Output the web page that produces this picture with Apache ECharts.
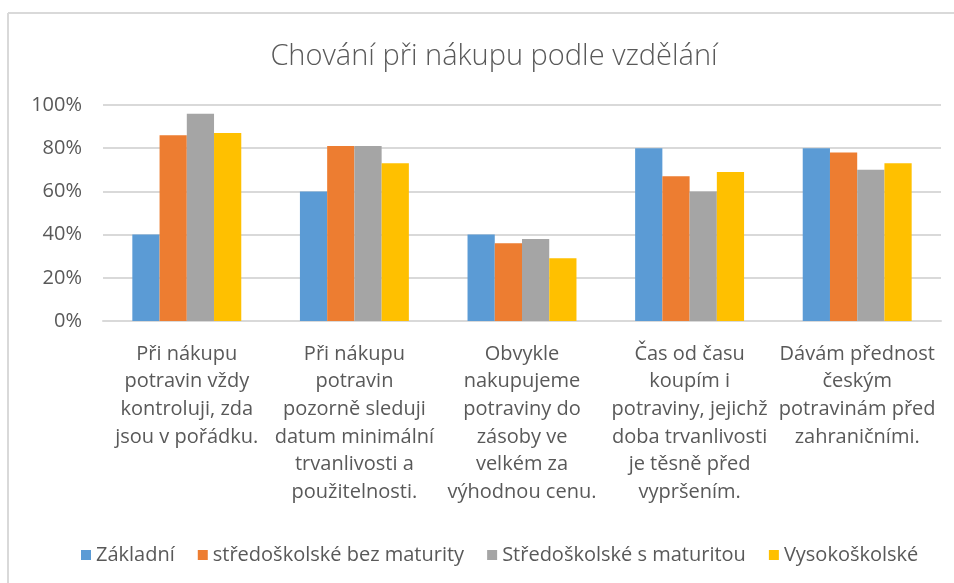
<!DOCTYPE html>
<html>
<head>
<meta charset="utf-8">
<script src="https://cdn.jsdelivr.net/npm/echarts@6/dist/echarts.min.js"></script>
<style>
  html, body { margin: 0; padding: 0; background: #fff; }
  #chart { width: 954px; height: 583px; }
</style>
</head>
<body>
<div id="chart"></div>
<script>
const categories = [
  'Při nákupu\npotravin vždy\nkontroluji, zda\njsou v pořádku.',
  'Při nákupu\npotravin\npozorně sleduji\ndatum minimální\ntrvanlivosti a\npoužitelnosti.',
  'Obvykle\nnakupujeme\npotraviny do\nzásoby ve\nvelkém za\nvýhodnou cenu.',
  'Čas od času\nkoupím i\npotraviny, jejichž\ndoba trvanlivosti\nje těsně před\nvypršením.',
  'Dávám přednost\nčeským\npotravinám před\nzahraničními.'
]
const seriesNames = ['Základní', 'středoškolské bez maturity', 'Středoškolské s maturitou', 'Vysokoškolské']
const zakladni = [40, 60, 40, 80, 80]
const bezMaturity = [86, 81, 36, 67, 78]
const sMaturitou = [96, 81, 38, 60, 70]
const vysokoskolske = [87, 73, 29, 69, 73]
const colors = ['#5B9BD5', '#ED7D31', '#A5A5A5', '#FFC000']

const font = '"Open Sans", Lato, sans-serif'
const textColor = '#595959'

const chart = echarts.init(document.getElementById('chart'))

const seriesData = [zakladni, bezMaturity, sMaturitou, vysokoskolske]

const option = {
  animation: false,
  color: colors,
  title: {
    text: 'Chování při nákupu podle vzdělání',
    left: 489,
    top: 37,
    textAlign: 'center',
    textStyle: { fontFamily: font, fontSize: 29, fontWeight: 300, color: textColor }
  },
  legend: {
    left: 76,
    top: 540,
    itemWidth: 10,
    itemHeight: 10,
    itemGap: 23,
    icon: 'rect',
    data: seriesNames,
    textStyle: { fontFamily: font, fontSize: 20, color: textColor }
  },
  grid: { left: 103, right: 13, top: 105, bottom: 262, containLabel: false },
  xAxis: {
    type: 'category',
    data: categories,
    axisTick: { show: false },
    axisLine: { lineStyle: { color: '#D9D9D9', width: 2 } },
    axisLabel: {
      interval: 0,
      margin: 19,
      fontFamily: font,
      fontSize: 20,
      color: textColor,
      lineHeight: 27.7
    }
  },
  yAxis: {
    type: 'value',
    min: 0,
    max: 100,
    interval: 20,
    axisLine: { show: false },
    axisTick: { show: false },
    splitLine: { lineStyle: { color: '#D9D9D9', width: 2 } },
    axisLabel: {
      margin: 21,
      fontFamily: font,
      fontSize: 20,
      color: textColor,
      formatter: '{value}%'
    }
  },
  graphic: [
    { type: 'line', shape: { x1: 8, y1: 13, x2: 954, y2: 13 }, style: { stroke: '#D9D9D9', lineWidth: 2 } },
    { type: 'line', shape: { x1: 8, y1: 13, x2: 8, y2: 583 }, style: { stroke: '#D9D9D9', lineWidth: 2 } }
  ],
  series: seriesNames.map((name, i) => ({
    name: name,
    type: 'bar',
    data: seriesData[i],
    barGap: '0%',
    barCategoryGap: '35%'
  }))
}

chart.setOption(option)
</script>
</body>
</html>
